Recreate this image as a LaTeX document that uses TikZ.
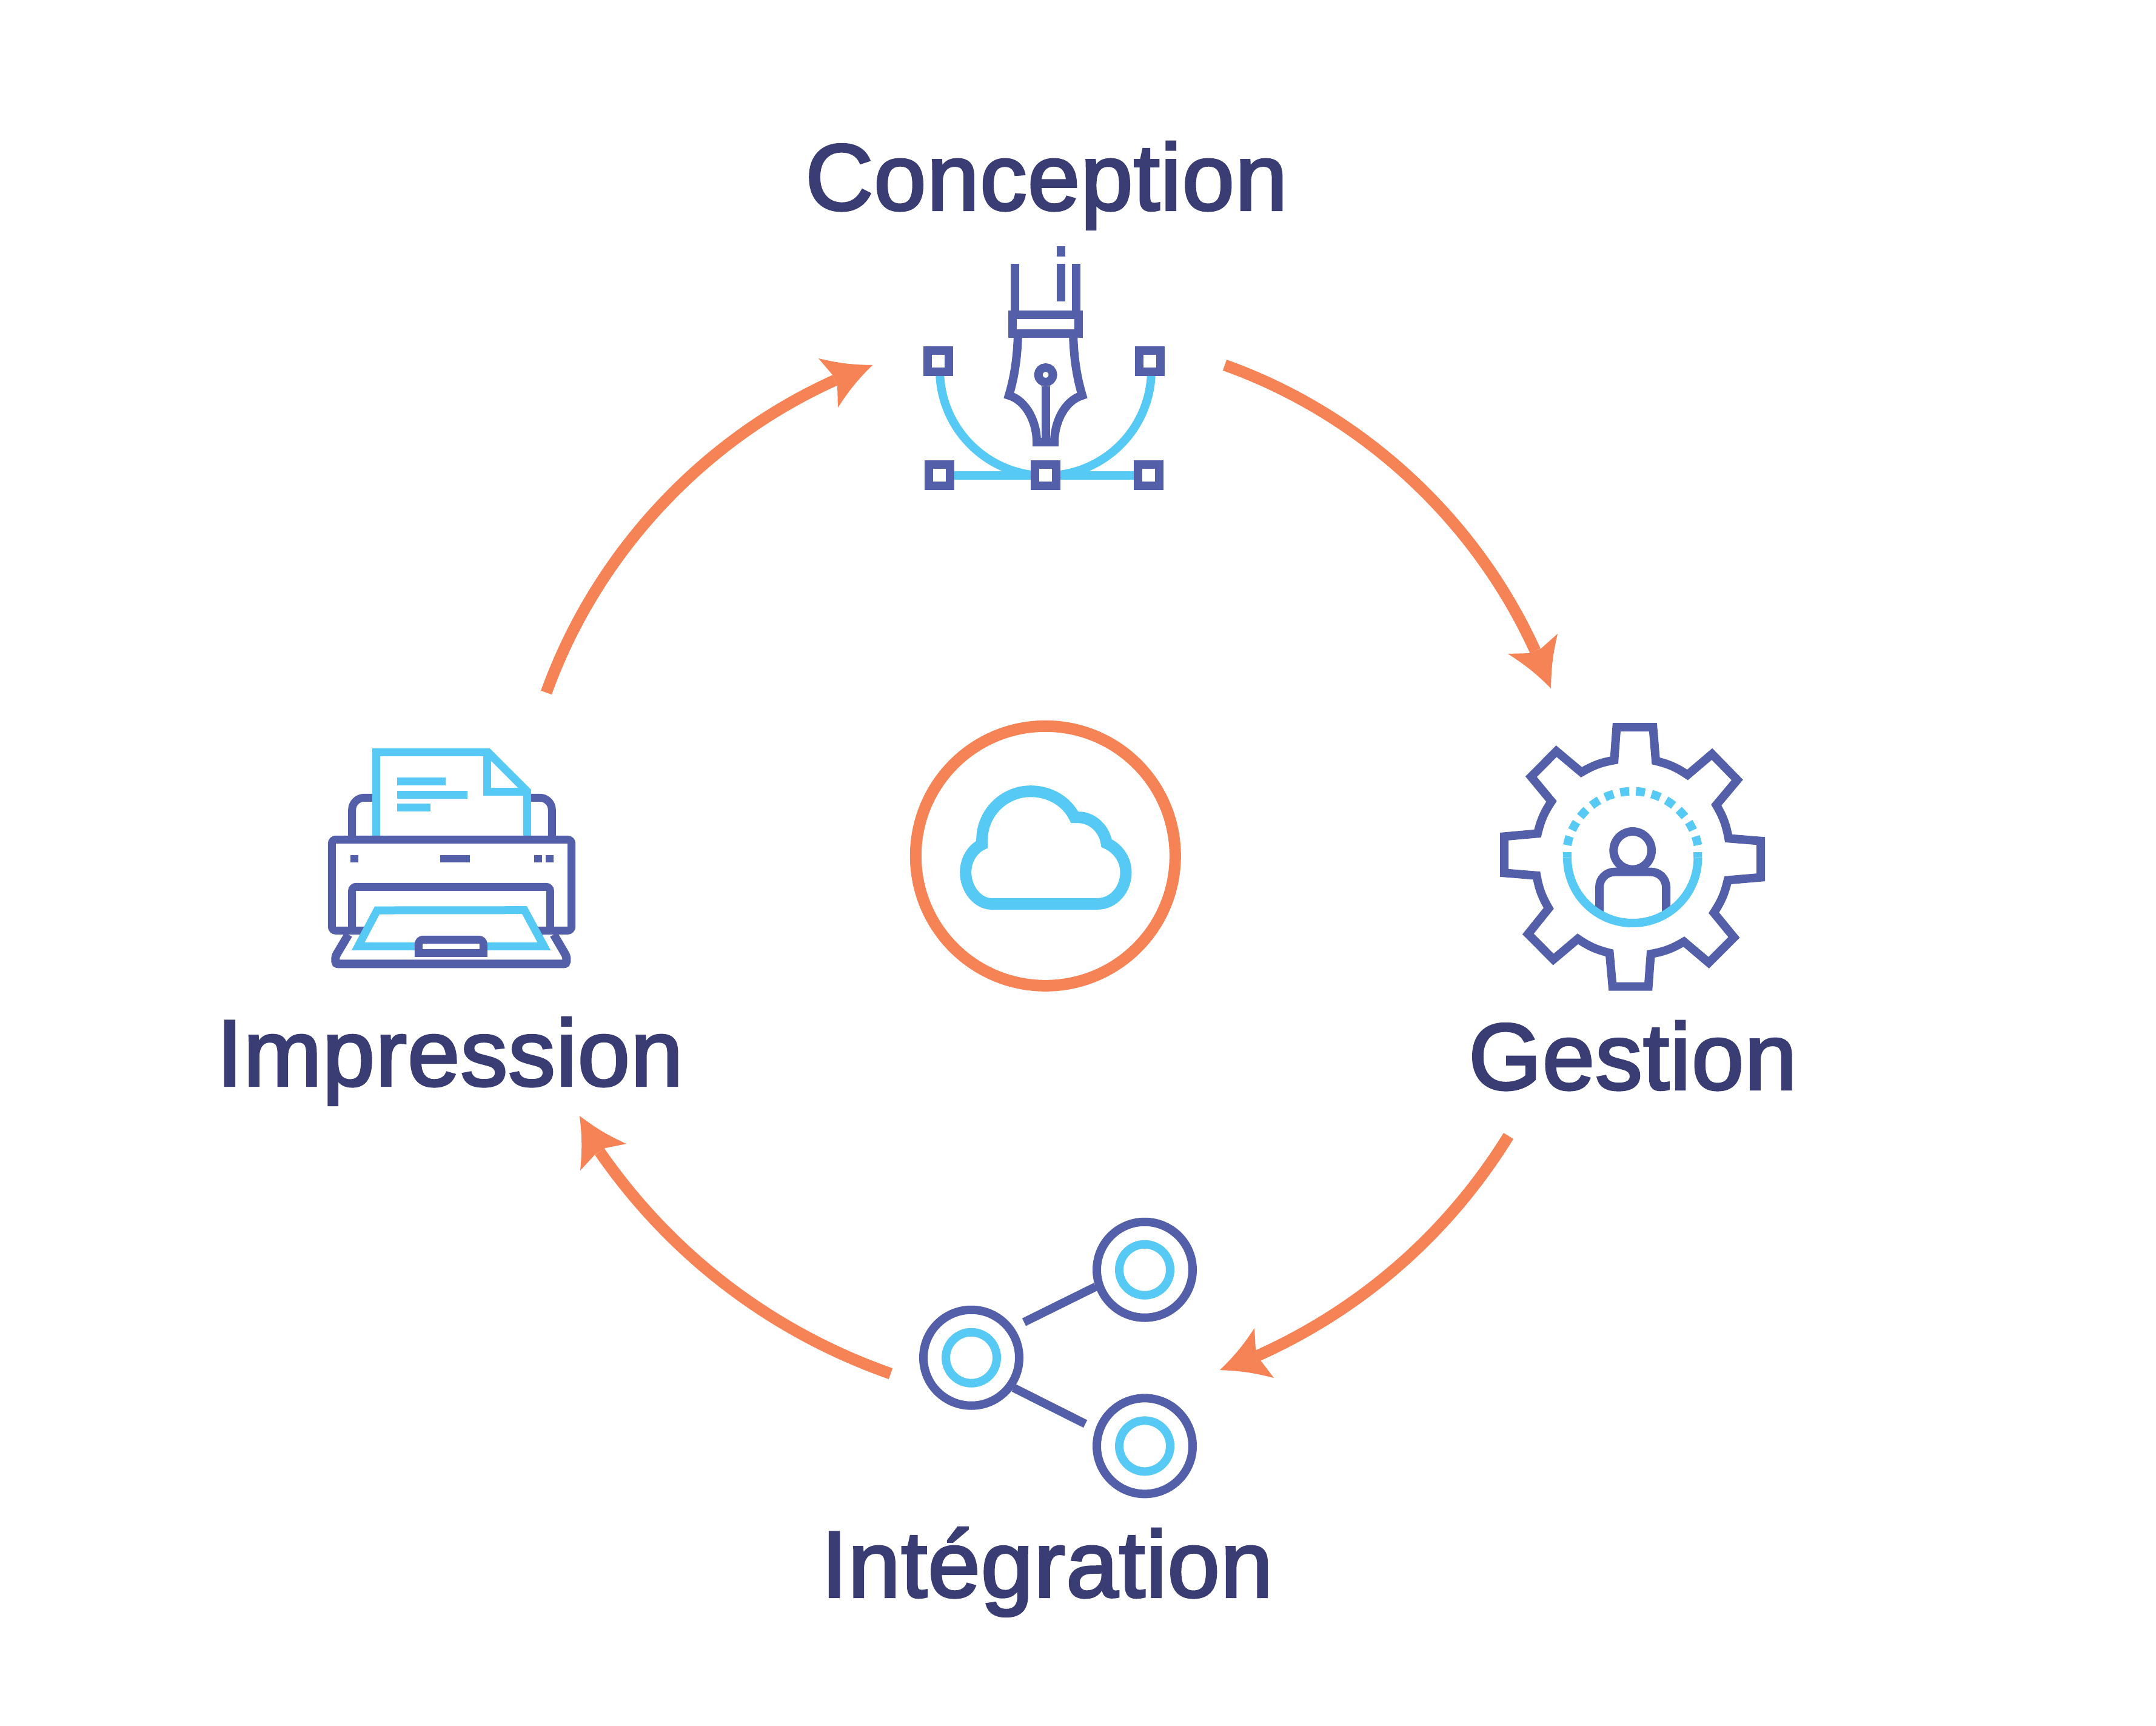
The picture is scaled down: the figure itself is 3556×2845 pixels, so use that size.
\documentclass[tikz,border=0pt]{standalone}
\usepackage{fontspec}
\newfontfamily\labfont[FakeBold=2.6,LetterSpace=0.8]{Liberation Sans}
\definecolor{pur}{HTML}{535FA8}
\definecolor{sky}{HTML}{56C9F4}
\definecolor{org}{HTML}{F58355}
\definecolor{ink}{HTML}{3A3D74}
\tikzset{
  pu/.style={draw=pur,line width=2.8pt,line join=miter},
  lb/.style={draw=sky,line width=2.8pt,line join=miter},
  sq/.style={pu,fill=white},
  shaft/.style={draw=org,line width=3.8pt,looseness=0.88},
  headfill/.style={fill=org,draw=none},
  lab/.style={text=ink,anchor=base,inner sep=0pt,font=\labfont\fontsize{31}{36}\selectfont},
}
\begin{document}
\begin{tikzpicture}[x=0.2pt,y=-0.2pt]
\useasboundingbox (0,0) rectangle (3556,2845);
\fill[white] (0,0) rectangle (3556,2845);

% labels
\node[lab] (conception) at (1726,346) {Conception};
\node[lab] (gestion) at (2693,1796) {Gestion};
\node[lab] (integration) at (1727,2633) {Intégration};
\node[lab] (impression) at (742,1790) {Impression};

% arrows
\coordinate (a1s) at (2020,602); \coordinate (a1e) at (2532,1073);
\coordinate (a2s) at (2488,1873); \coordinate (a2e) at (2075,2235);
\coordinate (a3s) at (1469,2265); \coordinate (a3e) at (989,1899);
\coordinate (a4s) at (901,1142); \coordinate (a4e) at (1377,627);
\draw[shaft] (a1s) to[bend left=23] (a1e);
\draw[shaft] (a2s) to[bend left=17] (a2e);
\draw[shaft] (a3s) to[bend left=18] (a3e);
\draw[shaft] (a4s) to[bend left=23] (a4e);
\fill[headfill] (2558,1135) to[bend right=6] (2487,1078) -- (2522,1077) -- (2542,1069) -- (2569,1045) to[bend right=6] (2558,1135) -- cycle;
\fill[headfill] (2012,2259) to[bend right=6] (2069,2190) -- (2071,2226) -- (2079,2243) -- (2101,2272) to[bend right=6] (2012,2259) -- cycle;
\fill[headfill] (956,1840) to[bend right=6] (1033,1886) -- (998,1893) -- (981,1904) -- (957,1930) to[bend right=6] (956,1840) -- cycle;
\fill[headfill] (1439,602) to[bend right=6] (1382,672) -- (1381,636) -- (1373,618) -- (1350,591) to[bend right=6] (1439,602) -- cycle;

% centre cloud
\draw[org,line width=3.8pt] (1724.3,1411.3) circle[radius=214];
\begin{scope}[shift={(1490,1180)},scale=1/3]
\draw[draw=sky,line width=3.8pt,line join=miter]
  (435,931) -- (960,931)
  .. controls (1040,931) and (1101,860) .. (1101,775)
  .. controls (1101,710) and (1060,655) .. (1005,631)
  .. controls (995,560) and (935,503) .. (865,503)
  -- (847,503)
  .. controls (810,425) and (725,374) .. (630,374)
  .. controls (497,374) and (389,482) .. (389,615)
  -- (389,637)
  .. controls (340,660) and (308,715) .. (308,775)
  .. controls (308,860) and (370,931) .. (435,931) -- cycle;
\end{scope}

% pen icon
\draw[lb] (1550,610) arc[start angle=180,end angle=0,radius=174.5];
\draw[lb] (1549,784) -- (1894,784);
\draw[pu] (1674,435) -- (1674,519);
\draw[pu] (1774.5,435) -- (1774.5,519);
\draw[pu] (1749.5,435) -- (1749.5,497);
\draw[pu] (1749.5,406) -- (1749.5,423);
\draw[pu] (1679,550) .. controls (1678,590) and (1673,622) .. (1664,652)
  .. controls (1692,660) and (1710,695) .. (1710,729) -- (1739,729)
  .. controls (1739,695) and (1757,660) .. (1785,652)
  .. controls (1776,622) and (1771,590) .. (1770,550);
\draw[pu] (1724.6,637) -- (1724.6,729);
\draw[pu] (1724.6,618) circle[radius=12];
\draw[pu,fill=white] (1670,519) rectangle (1779,550);
\draw[sq] (1530,577.5) rectangle (1565,612.5);
\draw[sq] (1878.5,577.5) rectangle (1913.5,612.5);
\draw[sq] (1531.5,766) rectangle (1566.5,801);
\draw[sq] (1707,766) rectangle (1742,801);
\draw[sq] (1876.5,766) rectangle (1911.5,801);

% gear icon
\begin{scope}[shift={(2450,1170)},scale=1/3]
\draw[pu] (649,87) -- (829,87) -- (843,254) to[bend left=10] (1000,323)
  -- (1121,220) -- (1246,348) -- (1142,472) to[bend left=10] (1203,637)
  -- (1362,650) -- (1362,830) -- (1199,844) to[bend left=10] (1130,1005)
  -- (1230,1127) -- (1105,1252) -- (982,1148) to[bend left=10] (818,1209)
  -- (806,1370) -- (629,1370) -- (614,1204) to[bend left=10] (457,1134)
  -- (336,1236) -- (211,1110) -- (313,983) to[bend left=10] (253,821)
  -- (93,808) -- (93,628) -- (258,613) to[bend left=10] (327,454)
  -- (226,332) -- (351,206) -- (475,310) to[bend left=10] (637,250) -- cycle;
\draw[pu] (728,697) circle[radius=94];
\draw[pu,rounded corners=5pt] (564,1000) -- (564,803) -- (894,803) -- (894,1000);
\draw[lb] (405,733) arc[start angle=180,end angle=0,radius=323];
\draw[lb] (405,706) -- (405,733);
\draw[lb] (1051,706) -- (1051,733);
\foreach \k in {0,...,11}{
  \pgfmathsetmacro\ang{194.8+\k*13.67-3.9}
  \draw[lb] ([shift={(\ang:329)}]728,733) arc[start angle=\ang,delta angle=7.8,radius=329];
}
\end{scope}

% share icon
\draw[pu] (1602,2238.7) circle[radius=79];
\draw[pu] (1888,2093.7) circle[radius=79];
\draw[pu] (1888,2384.3) circle[radius=79];
\draw[lb] (1602,2238.7) circle[radius=42];
\draw[lb] (1888,2093.7) circle[radius=42];
\draw[lb] (1888,2384.3) circle[radius=42];
\draw[pu] (1689,2180) -- (1807,2121.7);
\draw[pu] (1671.7,2288.3) -- (1790,2347.7);

% printer icon
\begin{scope}[shift={(520,1210)},scale=1/3]
\draw[pu] (164,993) -- (106,1090) .. controls (98,1105) and (100,1115) .. (100,1125)
  .. controls (100,1133) and (105,1138) .. (115,1138) -- (1228,1138)
  .. controls (1238,1138) and (1243,1133) .. (1243,1125)
  .. controls (1243,1115) and (1245,1105) .. (1237,1090) -- (1180,993);
\draw[pu,line width=2.6pt,rounded corners=4pt] (182,505) -- (182,316) -- (290,316);
\draw[pu,line width=2.6pt,rounded corners=4pt] (1171,505) -- (1171,316) -- (1060,316);
\draw[lb,line width=2.6pt] (301,505) -- (301,91) -- (855,91) -- (1048,284) -- (1048,505);
\draw[lb,line width=2.6pt] (850,91) -- (850,286) -- (1048,286);
\draw[lb,line width=2.6pt] (405,235) -- (645,235);
\draw[lb,line width=2.6pt] (405,301) -- (753,301);
\draw[lb,line width=2.6pt] (405,364) -- (570,364);
\draw[pu,line width=2.6pt,rounded corners=1.3pt] (82,523) rectangle (1268,973);
\draw[pu,line width=2.6pt,rounded corners=1.3pt] (182,973) -- (182,757) -- (1162,757) -- (1162,973);
\fill[pur] (174,600) rectangle (213,636);
\fill[pur] (618,600) rectangle (765,636);
\fill[pur] (1083,600) rectangle (1122,636);
\fill[pur] (1140,600) rectangle (1179,636);
\draw[lb,line width=2.6pt,fill=white] (306,873) -- (1035,872) -- (1132,1051) -- (212,1051) -- cycle;
\draw[pu,line width=2.6pt,fill=white] (511,1084) [rounded corners=1.5pt] -- (511,1018) -- (832,1018) [sharp corners] -- (832,1084) -- cycle;
\end{scope}
\end{tikzpicture}
\end{document}
